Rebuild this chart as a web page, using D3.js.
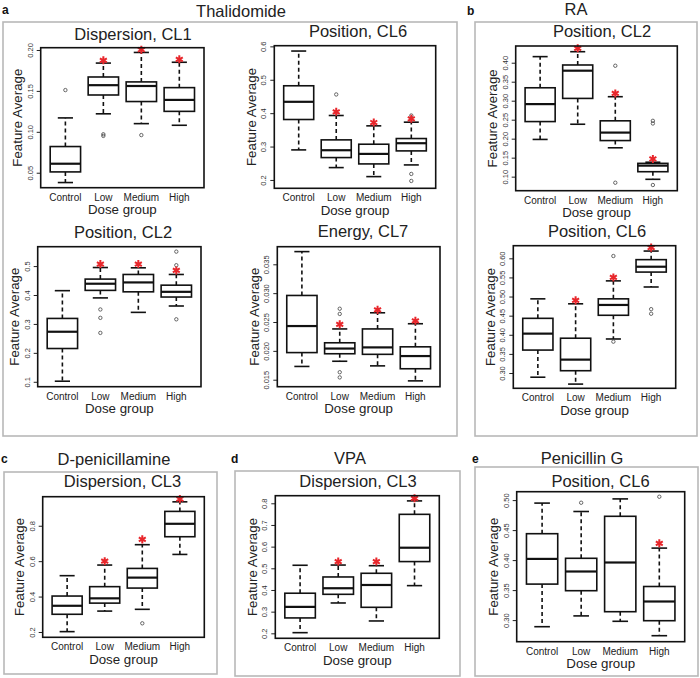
<!DOCTYPE html>
<meta charset="utf-8">
<style>
body { margin: 0; background: #fff; }
svg { font-family: "Liberation Sans", Arial, sans-serif; }
.frame { fill: none; stroke: #b8b8b8; stroke-width: 1.6; }
.box { fill: #fff; stroke: #111; stroke-width: 1.6; }
.med { stroke: #111; stroke-width: 2.2; }
.whisk { stroke: #111; stroke-width: 1.6; stroke-dasharray: 4,3; }
.cap { stroke: #111; stroke-width: 1.6; }
.out { fill: none; stroke: #444; stroke-width: 0.8; }
.star { fill: none; stroke: #e8262b; stroke-width: 2; }
.plotbox { fill: none; stroke: #111; stroke-width: 1.6; }
.yaxis text { font-size: 7.5px; fill: #333; }
.yaxis line { stroke: #222; }
</style>
<body>
<svg width="700" height="678"></svg>
<script src="https://d3js.org/d3.v7.min.js"></script>
<script>

var groups = ["Control", "Low", "Medium", "High"];

// boxes are [lower whisker, Q1, median, Q3, upper whisker], one per dose group
// outliers are [group index, value]; stars mark significant groups (null = none)

// Thalidomide
var thalDispCL1 = [[0.038, 0.051, 0.061, 0.082, 0.117], [0.122, 0.145, 0.157, 0.167, 0.184],
                   [0.110, 0.137, 0.156, 0.161, 0.197], [0.108, 0.125, 0.139, 0.154, 0.185]];
var thalDispCL1Out = [[0, 0.151], [1, 0.095], [1, 0.097], [2, 0.096]];
var thalDispCL1Star = [null, 0.1874, 0.2003, 0.1886];

var thalPosCL6 = [[0.290, 0.381, 0.434, 0.482, 0.586], [0.237, 0.267, 0.289, 0.320, 0.393],
                  [0.210, 0.248, 0.278, 0.307, 0.362], [0.245, 0.287, 0.310, 0.324, 0.373]];
var thalPosCL6Out = [[1, 0.456], [3, 0.393], [3, 0.218], [3, 0.197]];
var thalPosCL6Star = [null, 0.404, 0.372, 0.383];

var thalPosCL2 = [[0.102, 0.215, 0.273, 0.319, 0.415], [0.390, 0.416, 0.439, 0.455, 0.495],
                  [0.340, 0.411, 0.4435, 0.471, 0.494], [0.362, 0.393, 0.411, 0.434, 0.471]];
var thalPosCL2Out = [[1, 0.350], [1, 0.321], [1, 0.269], [3, 0.550], [3, 0.503], [3, 0.316]];
var thalPosCL2Star = [null, 0.507, 0.507, 0.485];

var thalEnCL7 = [[0.0173, 0.0197, 0.0243, 0.0296, 0.0372], [0.0182, 0.0195, 0.0204, 0.0214, 0.0238],
                 [0.0174, 0.0194, 0.0206, 0.0238, 0.0266], [0.0148, 0.0169, 0.0191, 0.0207, 0.0247]];
var thalEnCL7Out = [[1, 0.0273], [1, 0.0264], [1, 0.0163], [1, 0.0154]];
var thalEnCL7Star = [null, 0.0246, 0.0271, 0.0252];

// RA
var raPosCL2 = [[0.198, 0.245, 0.291, 0.334, 0.416], [0.238, 0.306, 0.379, 0.394, 0.429],
                [0.176, 0.195, 0.216, 0.247, 0.3105], [0.093, 0.113, 0.129, 0.135, 0.138]];
var raPosCL2Out = [[2, 0.392], [2, 0.084], [3, 0.247], [3, 0.240], [3, 0.078]];
var raPosCL2Star = [null, 0.438, 0.319, 0.1465];

var raPosCL6 = [[0.289, 0.360, 0.403, 0.443, 0.494], [0.271, 0.306, 0.335, 0.391, 0.481],
                [0.389, 0.451, 0.478, 0.494, 0.541], [0.525, 0.564, 0.578, 0.5965, 0.619]];
var raPosCL6Out = [[2, 0.606], [2, 0.382], [3, 0.467], [3, 0.455]];
var raPosCL6Star = [null, 0.490, 0.550, 0.628];

// D-penicillamine
var dpenDispCL3 = [[0.202, 0.300, 0.348, 0.403, 0.518], [0.318, 0.363, 0.390, 0.456, 0.578],
                   [0.328, 0.448, 0.507, 0.559, 0.693], [0.638, 0.738, 0.811, 0.881, 0.935]];
var dpenDispCL3Out = [[2, 0.249]];
var dpenDispCL3Star = [null, 0.600, 0.723, 0.951];

// VPA
var vpaDispCL3 = [[0.203, 0.271, 0.322, 0.385, 0.514], [0.340, 0.380, 0.408, 0.460, 0.515],
                  [0.257, 0.320, 0.423, 0.477, 0.512], [0.420, 0.531, 0.595, 0.749, 0.811]];
var vpaDispCL3Out = [];
var vpaDispCL3Star = [null, 0.531, 0.531, 0.823];

// Penicillin G
var penPosCL6 = [[0.289, 0.360, 0.402, 0.444, 0.495], [0.307, 0.349, 0.381, 0.403, 0.481],
                 [0.298, 0.314, 0.396, 0.473, 0.502], [0.274, 0.299, 0.331, 0.356, 0.420]];
var penPosCL6Out = [[1, 0.4956], [3, 0.5056]];
var penPosCL6Star = [null, null, null, 0.428];

// y tick labels
var ticksA = [0.05, 0.10, 0.15, 0.20];
var ticksB = [0.2, 0.3, 0.4, 0.5, 0.6];
var ticksC = [0.1, 0.2, 0.3, 0.4, 0.5];
var ticksD = [0.015, 0.020, 0.025, 0.030, 0.035];
var ticksE = [0.10, 0.15, 0.20, 0.25, 0.30, 0.35, 0.40];
var ticksF = [0.30, 0.35, 0.40, 0.45, 0.50, 0.55, 0.60];
var ticksG = [0.2, 0.4, 0.6, 0.8];
var ticksH = [0.2, 0.3, 0.4, 0.5, 0.6, 0.7, 0.8];
var ticksI = [0.30, 0.35, 0.40, 0.45, 0.50];

var svg = d3.select("svg");

// grey frames around each drug
var frames = [[3, 22, 457, 436], [475, 22, 697, 436], [4, 472, 217, 674], [235, 471, 460, 676], [475, 467, 698, 676]];
svg.selectAll("rect.frame").data(frames).enter().append("rect")
    .attr("class", "frame")
    .attr("x", function(d) { return d[0]; })
    .attr("y", function(d) { return d[1]; })
    .attr("width", function(d) { return d[2] - d[0]; })
    .attr("height", function(d) { return d[3] - d[1]; });

var drugs = [
  {t: "Thalidomide", x: 241, y: 17, l: "a", lx: 2, ly: 14},
  {t: "RA", x: 576, y: 15, l: "b", lx: 467, ly: 15},
  {t: "D-penicillamine", x: 114, y: 465, l: "c", lx: 1, ly: 463},
  {t: "VPA", x: 350, y: 464, l: "d", lx: 231, ly: 463},
  {t: "Penicillin G", x: 582, y: 464, l: "e", lx: 472, ly: 463}
];
drugs.forEach(function(d) {
  svg.append("text").attr("x", d.x).attr("y", d.y).attr("text-anchor", "middle")
      .attr("font-size", 16.5).attr("fill", "#222").text(d.t);
  svg.append("text").attr("x", d.lx).attr("y", d.ly)
      .attr("font-size", 12).attr("font-weight", "bold").attr("fill", "#111").text(d.l);
});

var panels = [
  {title: "Dispersion, CL1", box: thalDispCL1, out: thalDispCL1Out, star: thalDispCL1Star, ticks: ticksA, fmt: ".2f",
   pos: [40.7, 204, 47.7, 187.7], dom: [0.0317, 0.2028], tx: 133, ty: 40},
  {title: "Position, CL6", box: thalPosCL6, out: thalPosCL6Out, star: thalPosCL6Star, ticks: ticksB, fmt: ".1f",
   pos: [274.3, 435.7, 45.7, 188.3], dom: [0.175, 0.602], tx: 358, ty: 37},
  {title: "Position, CL2", box: thalPosCL2, out: thalPosCL2Out, star: thalPosCL2Star, ticks: ticksC, fmt: ".1f",
   pos: [37.7, 201, 246.7, 386.7], dom: [0.083, 0.567], tx: 123, ty: 238},
  {title: "Energy, CL7", box: thalEnCL7, out: thalEnCL7Out, star: thalEnCL7Star, ticks: ticksD, fmt: ".3f",
   pos: [277.3, 440, 246.7, 386.7], dom: [0.01379, 0.03805], tx: 363, ty: 237},
  {title: "Position, CL2", box: raPosCL2, out: raPosCL2Out, star: raPosCL2Star, ticks: ticksE, fmt: ".2f",
   pos: [515.7, 677.3, 46, 190.7], dom: [0.063, 0.444], tx: 602, ty: 37},
  {title: "Position, CL6", box: raPosCL6, out: raPosCL6Out, star: raPosCL6Star, ticks: ticksF, fmt: ".2f",
   pos: [513.3, 675.7, 245.7, 388.3], dom: [0.26, 0.633], tx: 597, ty: 237},
  {title: "Dispersion, CL3", box: dpenDispCL3, out: dpenDispCL3Out, star: dpenDispCL3Star, ticks: ticksG, fmt: ".1f",
   pos: [42.7, 204.3, 496.7, 637.3], dom: [0.170, 0.964], tx: 122.5, ty: 487},
  {title: "Dispersion, CL3", box: vpaDispCL3, out: vpaDispCL3Out, star: vpaDispCL3Star, ticks: ticksH, fmt: ".1f",
   pos: [275.3, 439.3, 495.7, 638.3], dom: [0.177, 0.835], tx: 358, ty: 487},
  {title: "Position, CL6", box: penPosCL6, out: penPosCL6Out, star: penPosCL6Star, ticks: ticksI, fmt: ".2f",
   pos: [516.7, 684.7, 491.7, 641.7], dom: [0.264, 0.514], tx: 600.5, ty: 487}
];

var starPath = d3.symbol().type(d3.symbolAsterisk).size(45)();

panels.forEach(function(p) {
  var left = p.pos[0], right = p.pos[1], top = p.pos[2], bottom = p.pos[3];
  var x = d3.scalePoint().domain(groups).range([left, right]).padding(0.65);
  var y = d3.scaleLinear().domain(p.dom).range([bottom, top]);
  var bw = x.step() * 0.8;
  var g = svg.append("g");

  // title
  g.append("text").attr("x", p.tx).attr("y", p.ty).attr("text-anchor", "middle")
      .attr("font-size", 16.5).attr("fill", "#222").text(p.title);

  // y axis with rotated labels
  var ax = g.append("g").attr("class", "yaxis").attr("transform", "translate(" + left + ",0)")
      .call(d3.axisLeft(y).tickValues(p.ticks).tickSize(4).tickFormat(d3.format(p.fmt)));
  ax.select(".domain").remove();
  ax.selectAll("text").attr("transform", "rotate(-90)").attr("x", 0).attr("y", -8)
      .attr("dy", 0).attr("text-anchor", "middle");

  // x labels
  g.selectAll("text.xl").data(groups).enter().append("text")
      .attr("class", "xl")
      .attr("x", function(d) { return x(d); })
      .attr("y", bottom + 12.8)
      .attr("text-anchor", "middle").attr("font-size", 10).attr("fill", "#222")
      .text(function(d) { return d; });

  g.append("text").attr("x", (left + right) / 2).attr("y", bottom + 26.5)
      .attr("text-anchor", "middle").attr("font-size", 13.3).attr("fill", "#222").text("Dose group");
  g.append("text").attr("transform", "translate(" + (left - 23) + "," + ((top + bottom) / 2) + ") rotate(-90)")
      .attr("dy", "0.35em").attr("text-anchor", "middle").attr("font-size", 13.3).attr("fill", "#222")
      .text("Feature Average");

  var b = g.selectAll("g.bx").data(p.box).enter().append("g").attr("class", "bx");
  var cx = function(d, i) { return x(groups[i]); };

  b.append("line").attr("class", "whisk")
      .attr("x1", cx).attr("x2", cx)
      .attr("y1", function(d) { return y(d[3]); }).attr("y2", function(d) { return y(d[4]); });
  b.append("line").attr("class", "whisk")
      .attr("x1", cx).attr("x2", cx)
      .attr("y1", function(d) { return y(d[1]); }).attr("y2", function(d) { return y(d[0]); });
  [0, 4].forEach(function(k) {
    b.append("line").attr("class", "cap")
        .attr("x1", function(d, i) { return cx(d, i) - bw / 4; })
        .attr("x2", function(d, i) { return cx(d, i) + bw / 4; })
        .attr("y1", function(d) { return y(d[k]); }).attr("y2", function(d) { return y(d[k]); });
  });
  b.append("rect").attr("class", "box")
      .attr("x", function(d, i) { return cx(d, i) - bw / 2; })
      .attr("width", bw)
      .attr("y", function(d) { return y(d[3]); })
      .attr("height", function(d) { return y(d[1]) - y(d[3]); });
  b.append("line").attr("class", "med")
      .attr("x1", function(d, i) { return cx(d, i) - bw / 2; })
      .attr("x2", function(d, i) { return cx(d, i) + bw / 2; })
      .attr("y1", function(d) { return y(d[2]); }).attr("y2", function(d) { return y(d[2]); });

  g.selectAll("circle.out").data(p.out).enter().append("circle")
      .attr("class", "out")
      .attr("cx", function(d) { return x(groups[d[0]]); })
      .attr("cy", function(d) { return y(d[1]); })
      .attr("r", 1.7);

  g.selectAll("path.star").data(p.star.map(function(v, i) { return [i, v]; }).filter(function(d) { return d[1] != null; }))
      .enter().append("path")
      .attr("class", "star")
      .attr("d", starPath)
      .attr("transform", function(d) { return "translate(" + x(groups[d[0]]) + "," + y(d[1]) + ")"; });

  g.append("rect").attr("class", "plotbox")
      .attr("x", left).attr("y", top).attr("width", right - left).attr("height", bottom - top);
});

</script>
</body>
